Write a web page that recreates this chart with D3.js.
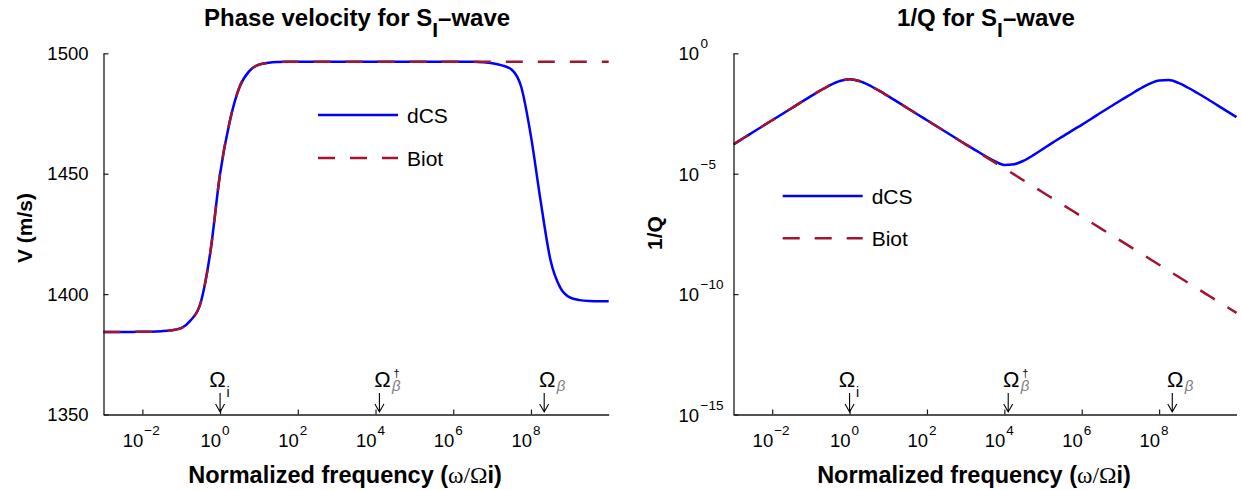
<!DOCTYPE html>
<html>
<head>
<meta charset="utf-8">
<script src="https://cdn.jsdelivr.net/npm/d3@7"></script>
<style>
  body { margin: 0; background: #fff; }
  svg text { font-family: "Liberation Sans", Arial, Helvetica, sans-serif; fill: #000; }
</style>
</head>
<body>
<svg id="chart" width="1241" height="490"></svg>
<script>
// Normalized frequency samples, as log10(omega / Omega_i)
const logFreq = [-3, -2.75, -2.5, -2.25, -2, -1.75, -1.5, -1.25, -1, -0.75, -0.5, -0.25,
  0, 0.25, 0.5, 0.75, 1, 1.25, 1.5, 1.75, 2, 2.25, 2.5, 2.75, 3, 3.25, 3.5, 3.75,
  4, 4.25, 4.5, 4.75, 5, 5.25, 5.5, 5.75, 6, 6.25, 6.5, 6.75, 7, 7.25, 7.5, 7.75,
  8, 8.25, 8.5, 8.75, 9, 9.25, 9.5, 9.75, 10];

// Phase velocity of the S_I wave (m/s)
const velocityDCS = [1384.3, 1384.3, 1384.3, 1384.3, 1384.4, 1384.4, 1384.6, 1385.0, 1385.9, 1389.2, 1396.4, 1417.5,
  1450.0, 1471.8, 1486.0, 1492.6, 1495.3, 1496.1, 1496.4, 1496.5, 1496.5, 1496.5, 1496.5, 1496.5, 1496.5, 1496.5, 1496.5, 1496.5,
  1496.5, 1496.5, 1496.5, 1496.5, 1496.5, 1496.5, 1496.5, 1496.5, 1496.5, 1496.5, 1496.5, 1496.3, 1495.9, 1495.0, 1493.3, 1486.0,
  1465.5, 1438.5, 1414.3, 1402.8, 1398.6, 1397.5, 1397.1, 1397.0, 1397.0];
const velocityBiot = [1384.3, 1384.3, 1384.3, 1384.3, 1384.4, 1384.4, 1384.6, 1385.0, 1385.9, 1389.2, 1396.4, 1417.5,
  1450.0, 1471.8, 1486.0, 1492.6, 1495.3, 1496.1, 1496.4, 1496.5, 1496.5, 1496.5, 1496.5, 1496.5, 1496.5, 1496.5, 1496.5, 1496.5,
  1496.5, 1496.5, 1496.5, 1496.5, 1496.5, 1496.5, 1496.5, 1496.5, 1496.5, 1496.5, 1496.5, 1496.5, 1496.5, 1496.5, 1496.5, 1496.5,
  1496.5, 1496.5, 1496.5, 1496.5, 1496.5, 1496.5, 1496.5, 1496.5, 1496.5];

// Attenuation 1/Q of the S_I wave, stored as log10(1/Q)
const invQExpDCS = [-3.78, -3.53, -3.28, -3.03, -2.78, -2.53, -2.28, -2.03, -1.78, -1.54, -1.32, -1.15,
  -1.08, -1.15, -1.32, -1.54, -1.78, -2.03, -2.28, -2.53, -2.78, -3.03, -3.28, -3.53, -3.78, -4.02, -4.26, -4.48,
  -4.64, -4.61, -4.46, -4.23, -3.97, -3.71, -3.46, -3.21, -2.97, -2.72, -2.46, -2.21, -1.96, -1.72, -1.48, -1.27,
  -1.13, -1.11, -1.23, -1.43, -1.66, -1.90, -2.15, -2.40, -2.65];
const invQExpBiot = [-3.78, -3.53, -3.28, -3.03, -2.78, -2.53, -2.28, -2.03, -1.78, -1.54, -1.32, -1.15,
  -1.08, -1.15, -1.32, -1.54, -1.78, -2.03, -2.28, -2.53, -2.78, -3.03, -3.28, -3.53, -3.78, -4.03, -4.28, -4.53,
  -4.78, -5.03, -5.28, -5.53, -5.78, -6.03, -6.28, -6.53, -6.78, -7.03, -7.28, -7.53, -7.78, -8.03, -8.28, -8.53,
  -8.78, -9.03, -9.28, -9.53, -9.78, -10.03, -10.28, -10.53, -10.78];

// Axis ticks
const freqTickExp = [-2, 0, 2, 4, 6, 8];
const velocityTicks = [1350, 1400, 1450, 1500];
const invQTickExp = [-15, -10, -5, 0];

// Characteristic frequencies marked with arrows (log10)
const markerNames = ["i", "betaDagger", "beta"];
const markerExp = [0, 4.1, 8.34];

const seriesNames = ["dCS", "Biot"];
const colorDCS = "#0000ff";
const colorBiot = "#A2142F";

const svg = d3.select("#chart");
const yTop = 53.3, yBottom = 414.5;

function drawPanel(cfg) {
  const g = svg.append("g");
  const x = d3.scaleLog().domain([1e-3, 1e10]).range(cfg.xRange);
  const y = cfg.y;

  // curves
  const line = d3.line()
    .x(d => x(Math.pow(10, d.f)))
    .y(d => y(d.v))
    .curve(d3.curveMonotoneX);
  const dcs = logFreq.map((f, i) => ({ f, v: cfg.dcs[i] }));
  const biot = logFreq.map((f, i) => ({ f, v: cfg.biot[i] }));
  g.append("path").attr("d", line(dcs))
    .attr("fill", "none").attr("stroke", colorDCS).attr("stroke-width", 2.5)
    .attr("stroke-linejoin", "round");
  g.append("path").attr("d", line(biot))
    .attr("fill", "none").attr("stroke", colorBiot).attr("stroke-width", 2.5)
    .attr("stroke-dasharray", "17,15");

  // bottom axis
  const xAxis = g.append("g").attr("transform", `translate(0,${yBottom})`)
    .call(d3.axisBottom(x).tickValues(freqTickExp.map(e => Math.pow(10, e)))
      .tickSizeInner(-5).tickSizeOuter(0).tickFormat(""));
  xAxis.select(".domain").attr("stroke", "#1a1a1a").attr("stroke-width", 1.3);
  xAxis.selectAll(".tick line").attr("stroke", "#1a1a1a").attr("stroke-width", 1.2);

  freqTickExp.forEach(e => {
    const px = x(Math.pow(10, e));
    g.append("text").attr("x", px + 1).attr("y", 447).attr("text-anchor", "end")
      .attr("font-size", 18.5).text("10");
    g.append("text").attr("x", px + 2).attr("y", 435).attr("font-size", 13.5)
      .text(e < 0 ? "\u2212" + Math.abs(e) : String(e));
  });

  // left axis
  const yAxisGen = d3.axisLeft(y).tickSizeInner(-5).tickSizeOuter(0);
  if (cfg.log) {
    yAxisGen.tickValues(invQTickExp.map(e => Math.pow(10, e))).tickFormat("");
  } else {
    yAxisGen.tickValues(velocityTicks).tickFormat(d3.format("d")).tickPadding(15);
  }
  const yAxis = g.append("g").attr("transform", `translate(${cfg.xRange[0]},0)`).call(yAxisGen);
  yAxis.select(".domain").attr("stroke", "#1a1a1a").attr("stroke-width", 1.3);
  yAxis.selectAll(".tick line").attr("stroke", "#1a1a1a").attr("stroke-width", 1.2);
  yAxis.selectAll(".tick text").attr("font-size", 18.5).attr("fill", "#000")
    .attr("font-family", '"Liberation Sans", Arial, sans-serif');

  if (cfg.log) {
    invQTickExp.forEach(e => {
      const py = y(Math.pow(10, e));
      const bx = cfg.xRange[0] - 34.5;
      g.append("text").attr("x", bx).attr("y", py + 7).attr("text-anchor", "end")
        .attr("font-size", 18.5).text("10");
      g.append("text").attr("x", bx + 1.5).attr("y", py - 5).attr("font-size", 13.5)
        .text(e < 0 ? "\u2212" + Math.abs(e) : String(e));
    });
  }

  // title
  const cx = (cfg.xRange[0] + cfg.xRange[1]) / 2;
  const t = g.append("text").attr("x", cx + 1).attr("y", 25.5).attr("text-anchor", "middle")
    .attr("font-size", 24).attr("font-weight", "bold");
  t.append("tspan").text(cfg.title + " for S");
  t.append("tspan").attr("dy", 11).attr("font-size", 21).text("I");
  t.append("tspan").attr("dy", -11).text("\u2013wave");

  // x label
  const xl = g.append("text").attr("x", cx - 11).attr("y", 483).attr("text-anchor", "middle")
    .attr("font-size", 23.5).attr("font-weight", "bold");
  xl.append("tspan").text("Normalized frequency (");
  xl.append("tspan").attr("font-family", '"Liberation Serif", "Times New Roman", serif')
    .attr("font-weight", "normal").text("\u03c9/\u03a9");
  xl.append("tspan").text("i)");

  // y label
  g.append("text").attr("transform", `translate(${cfg.yLabelX},${cfg.yLabelY}) rotate(-90)`)
    .attr("text-anchor", "middle").attr("font-size", 21).attr("font-weight", "bold")
    .text(cfg.yLabel);

  // frequency markers
  const serif = '"Liberation Serif", "Times New Roman", serif';
  markerNames.forEach((name, i) => {
    const ax = x(Math.pow(10, markerExp[i]));
    g.append("path")
      .attr("d", `M${ax},${393}V${412}M${ax - 4.5},${404}L${ax},${412}L${ax + 4.5},${404}`)
      .attr("fill", "none").attr("stroke", "#000").attr("stroke-width", 1.1);
    const om = g.append("text").attr("y", 386.5).attr("text-anchor", "middle")
      .attr("font-family", serif).attr("font-size", 22).text("\u03a9");
    if (name === "i") {
      om.attr("x", ax - 2.5);
      g.append("text").attr("x", ax + 6.5).attr("y", 397).attr("font-size", 14).text("i");
    } else {
      om.attr("x", ax + 3);
      g.append("text").attr("x", ax + 12.5).attr("y", 391).attr("font-family", serif)
        .attr("font-style", "italic").attr("font-size", 15).style("fill", "#808080").text("\u03b2");
      if (name === "betaDagger") {
        g.append("text").attr("x", ax + 14).attr("y", 376.5).attr("font-family", serif)
          .attr("font-size", 11).text("\u2020");
      }
    }
  });

  // legend
  const lg = g.append("g");
  seriesNames.forEach((name, i) => {
    const ly = cfg.legendY[i];
    lg.append("line").attr("x1", cfg.legendX).attr("x2", cfg.legendX + 80)
      .attr("y1", ly).attr("y2", ly)
      .attr("stroke", i === 0 ? colorDCS : colorBiot).attr("stroke-width", 2.5)
      .attr("stroke-dasharray", i === 0 ? null : "17,15");
    lg.append("text").attr("x", cfg.legendX + 89).attr("y", ly + 7.5)
      .attr("font-size", 21).text(name);
  });
}

drawPanel({
  xRange: [103.5, 608.7],
  y: d3.scaleLinear().domain([1350, 1500]).range([yBottom, yTop]),
  log: false,
  dcs: velocityDCS,
  biot: velocityBiot,
  title: "Phase velocity",
  yLabel: "V (m/s)",
  yLabelX: 32, yLabelY: 228,
  legendX: 318, legendY: [115, 158]
});

drawPanel({
  xRange: [733.5, 1236.5],
  y: d3.scaleLog().domain([1e-15, 1]).range([yBottom, yTop]),
  log: true,
  dcs: invQExpDCS.map(e => Math.pow(10, e)),
  biot: invQExpBiot.map(e => Math.pow(10, e)),
  title: "1/Q",
  yLabel: "1/Q",
  yLabelX: 662, yLabelY: 233,
  legendX: 782.7, legendY: [196, 238.3]
});
</script>
</body>
</html>
